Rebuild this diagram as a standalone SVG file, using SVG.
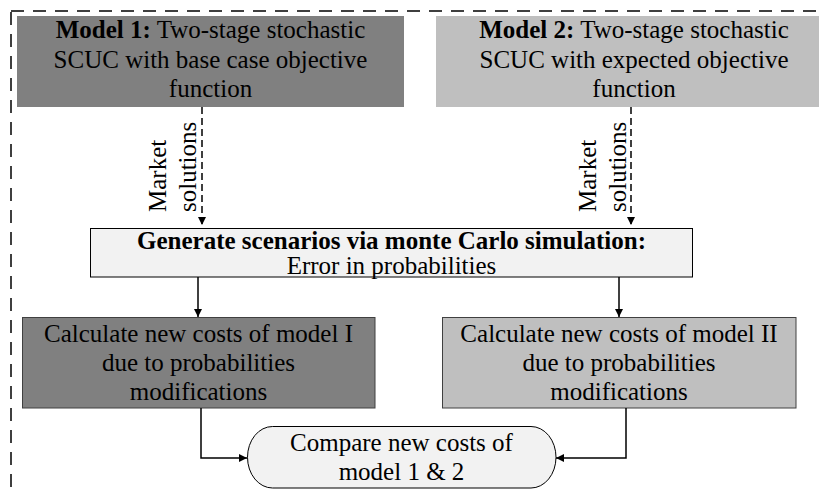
<svg xmlns="http://www.w3.org/2000/svg" width="819" height="495" viewBox="0 0 819 495">
<defs>
<style>
text{font-family:"Liberation Serif","Times New Roman",serif;font-size:25px;fill:#000}
.c{text-anchor:middle}
.b{font-weight:bold}
.dark{fill:#808080}
.light{fill:#bfbfbf}
.pale{fill:#f2f2f2;stroke:#000;stroke-width:1}
.box{stroke:#404040;stroke-width:1}
.conn{fill:none;stroke:#000;stroke-width:1.5}
.dash{fill:none;stroke:#000;stroke-width:1.5;stroke-dasharray:7 4}
</style>
<marker id="ah" viewBox="0 0 10 10" refX="10" refY="5" markerWidth="8" markerHeight="8" markerUnits="userSpaceOnUse" orient="auto" preserveAspectRatio="none">
<path d="M0,0 L10,5 L0,10 Z" fill="#000"/>
</marker>
</defs>
<rect x="11" y="11" width="840" height="520" fill="none" stroke="#000" stroke-width="1.5" stroke-dasharray="13 9"/>
<g id="model1">
<rect x="17" y="16" width="387" height="91" class="dark"/>
<text class="c" x="210.5" y="38"><tspan class="b">Model 1:</tspan> Two-stage stochastic</text>
<text class="c" x="210.5" y="68">SCUC with base case objective</text>
<text class="c" x="210.5" y="97">function</text>
</g>
<g id="model2">
<rect x="436" y="16" width="400" height="91" class="light"/>
<text class="c" x="634" y="38"><tspan class="b">Model 2:</tspan> Two-stage stochastic</text>
<text class="c" x="634" y="68">SCUC with expected objective</text>
<text class="c" x="634" y="97">function</text>
</g>
<g id="generate">
<rect x="90.5" y="228.5" width="602" height="48.5" class="pale"/>
<text class="c b" x="391.5" y="249">Generate scenarios via monte Carlo simulation:</text>
<text class="c" x="391.5" y="273.5">Error in probabilities</text>
</g>
<g id="calc1">
<rect x="22.5" y="317.5" width="352.5" height="90.5" class="dark box"/>
<text class="c" x="198.5" y="342">Calculate new costs of model I</text>
<text class="c" x="198.5" y="371">due to probabilities</text>
<text class="c" x="198.5" y="400">modifications</text>
</g>
<g id="calc2">
<rect x="442.5" y="317.5" width="353.5" height="90.5" class="light box"/>
<text class="c" x="619" y="342">Calculate new costs of model II</text>
<text class="c" x="619" y="371">due to probabilities</text>
<text class="c" x="619" y="400">modifications</text>
</g>
<g id="compare">
<rect x="247.5" y="426.5" width="308.5" height="61.5" rx="25" ry="30.75" class="pale"/>
<text class="c" x="401.5" y="451">Compare new costs of</text>
<text class="c" x="401.5" y="480">model 1 &amp; 2</text>
</g>
<g id="connectors">
<path class="dash" d="M202,107 V225" marker-end="url(#ah)"/>
<path class="dash" d="M631,107 V225" marker-end="url(#ah)"/>
<text transform="translate(166,212) rotate(-90)">Market</text>
<text transform="translate(196,212) rotate(-90)">solutions</text>
<text transform="translate(596,212) rotate(-90)">Market</text>
<text transform="translate(626,212) rotate(-90)">solutions</text>
<path class="conn" d="M198,277 V317" marker-end="url(#ah)"/>
<path class="conn" d="M619,277 V317" marker-end="url(#ah)"/>
<path class="conn" d="M201,408 V458 H247" marker-end="url(#ah)"/>
<path class="conn" d="M626,408 V458 H556" marker-end="url(#ah)"/>
</g>
</svg>
